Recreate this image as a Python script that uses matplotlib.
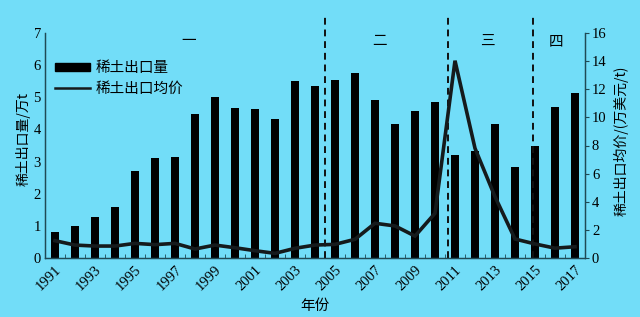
import matplotlib
matplotlib.use("Agg")
import matplotlib.pyplot as plt
import numpy as np
from matplotlib.lines import Line2D
from matplotlib.patches import Rectangle

years = list(range(1991, 2018))
export_volume = [0.81, 1.0, 1.28, 1.6, 2.7, 3.1, 3.15, 4.48, 5.0, 4.68, 4.63, 4.32,
                 5.5, 5.34, 5.54, 5.76, 4.92, 4.17, 4.56, 4.85, 3.2, 3.33, 4.17,
                 2.84, 3.49, 4.69, 5.13]
export_price = [1.23, 0.92, 0.85, 0.85, 1.04, 0.95, 1.04, 0.64, 0.92, 0.73, 0.52, 0.33,
                0.69, 0.92, 0.97, 1.33, 2.47, 2.28, 1.56, 3.18, 14.03, 7.8, 4.36,
                1.35, 1.0, 0.7, 0.8]
stage_bounds = [2004.5, 2010.67, 2014.92]
stage_labels = ["一", "二", "三", "四"]
stage_label_x = [1997.7, 2007.25, 2012.6, 2016.05]
xtick_labels = [str(y) for y in range(1991, 2018, 2)]

bg = "#72DDF8"
serif = ["Liberation Serif", "Noto Sans CJK SC"]
cjk = ["Noto Sans CJK SC", "Liberation Serif"]

fig = plt.figure(figsize=(6.4, 3.17), dpi=100, facecolor=bg)
ax = fig.add_axes([45/640, (317-258)/317, 540/640, 225/317])
ax.set_facecolor(bg)
ax2 = ax.twinx()

ax.bar(years, export_volume, width=0.36, color="black", zorder=2)
ax2.plot(years, export_price, color="#151a1c", lw=2.6, zorder=3, solid_joinstyle="miter")

ax.set_xlim(1990.5, 2017.5)
ax.set_ylim(0, 7)
ax2.set_ylim(0, 16)

ax.set_xticks(list(range(1991, 2018, 2)))
ax.set_xticklabels(xtick_labels, rotation=45, ha="right", rotation_mode="anchor",
                   fontfamily=serif, fontsize=10.5)
ax.set_xticks([y + 0.5 for y in range(1990, 2018)], minor=True)
ax.tick_params(axis="x", which="major", length=0, pad=4)
ax.tick_params(axis="x", which="minor", direction="in", length=3, color="#1f4a55")
ax.set_yticks(range(0, 8))
ax.set_yticklabels([str(v) for v in range(0, 8)], fontfamily=serif, fontsize=10.5)
ax.tick_params(axis="y", direction="in", length=0, pad=3)
ax2.set_yticks(range(0, 17, 2))
ax2.set_yticklabels([str(v) for v in range(0, 17, 2)], fontfamily=serif, fontsize=10.5)
ax2.tick_params(axis="y", direction="out", length=3, color="#1f4a55", pad=2)

for a in (ax, ax2):
    a.spines["top"].set_visible(False)
    for s in ("left", "right", "bottom"):
        a.spines[s].set_color("#1f4a55")
        a.spines[s].set_linewidth(0.9)

for xb in stage_bounds:
    ax.plot([xb, xb], [0, 7.5], ls=(0, (3.5, 2.5)), color="#111111", lw=1.4,
            clip_on=False, zorder=4)

for lx, lab in zip(stage_label_x, stage_labels):
    ax.text(lx, 6.75, lab, ha="center", va="center", fontsize=10.5, fontfamily=cjk)

ax.set_xlabel("年份", fontfamily=cjk, fontsize=10.5, labelpad=4)
ax.set_ylabel("稀土出口量/万t", fontfamily=cjk, fontsize=10, labelpad=4)
ax.yaxis.set_label_coords(-0.026, 0.53)
ax2.set_ylabel("稀土出口均价/(万美元/t)", fontfamily=cjk, fontsize=10, labelpad=6)
ax2.yaxis.set_label_coords(1.053, 0.52)

handles = [Rectangle((0, 0), 1, 1, color="black"),
           Line2D([0], [0], color="#151a1c", lw=1.8)]
leg = ax.legend(handles, ["稀土出口量", "稀土出口均价"], loc="upper left",
                bbox_to_anchor=(0.0, 0.92), frameon=False,
                prop={"family": cjk, "size": 10.5}, handlelength=2.4,
                handleheight=0.5, handletextpad=0.4, labelspacing=0.45,
                borderaxespad=0.3)

fig.savefig("out.png", dpi=100, facecolor=bg)
